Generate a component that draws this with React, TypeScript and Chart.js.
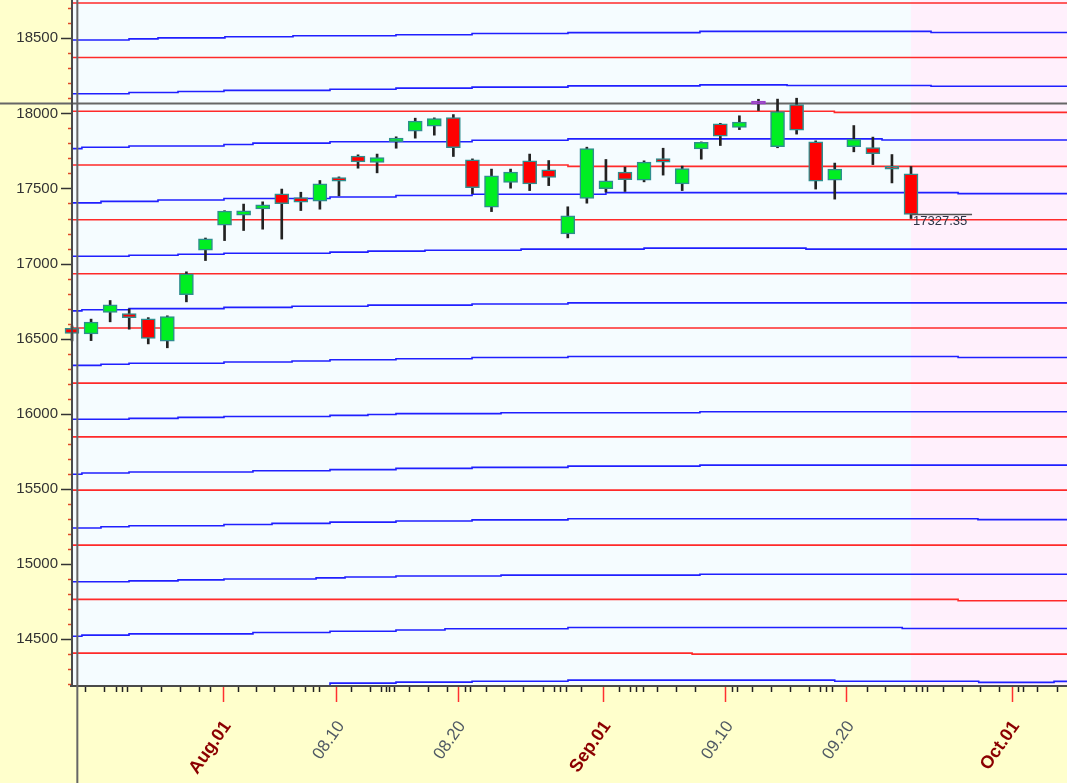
import React, { useEffect, useRef } from "react";
import { Chart, registerables } from "chart.js";

Chart.register(...registerables);

// ---- candle data (index 0 .. 44) ----
const OPEN = [16569, 16532, 16674, 16667, 16632, 16483, 16792, 17089, 17256, 17322, 17364, 17464, 17440, 17416, 17573, 17715, 17673, 17812, 17882, 17915, 17972, 17691, 17376, 17540, 17684, 17624, 17198, 17433, 17498, 17609, 17555, 17699, 17531, 17764, 17930, 17906, 18062, 17779, 18059, 17810, 17555, 17779, 17772, 17631, 17597];
const HIGH = [16585, 16630, 16754, 16698, 16640, 16652, 16945, 17170, 17352, 17396, 17411, 17496, 17475, 17553, 17577, 17724, 17729, 17844, 17968, 17970, 17992, 17697, 17629, 17629, 17729, 17686, 17378, 17775, 17693, 17642, 17684, 17768, 17649, 17810, 17934, 17984, 18094, 18095, 18101, 17817, 17669, 17919, 17842, 17726, 17646];
const LOW = [16485, 16487, 16612, 16563, 16465, 16439, 16745, 17020, 17153, 17220, 17229, 17163, 17353, 17362, 17451, 17635, 17604, 17768, 17835, 17855, 17713, 17466, 17346, 17502, 17486, 17519, 17171, 17402, 17476, 17480, 17544, 17589, 17486, 17695, 17786, 17892, 18019, 17771, 17862, 17496, 17429, 17744, 17659, 17537, 17300];
const CLOSE = [16535, 16610, 16725, 16639, 16501, 16647, 16932, 17165, 17349, 17351, 17391, 17398, 17409, 17531, 17549, 17677, 17706, 17835, 17948, 17966, 17772, 17506, 17584, 17609, 17531, 17573, 17318, 17766, 17551, 17558, 17675, 17675, 17633, 17808, 17848, 17942, 18062, 18012, 17888, 17549, 17629, 17828, 17731, 17628, 17327.35];

// ---- axis data ----
const Y_MIN = 14187;
const Y_MAX = 18755;
const Y_LABELS = [14500, 15000, 15500, 16000, 16500, 17000, 17500, 18000, 18500];
const Y_MINOR_STEP = 100;
const X_MIN = 0;
const X_MAX = 52.18;
const X_MAJOR_POS = [7.92, 13.87, 20.22, 27.83, 34.26, 40.61, 49.27];
const X_MAJOR_LABELS = ["Aug.01", "08.10", "08.20", "Sep.01", "09.10", "09.20", "Oct.01"];
const X_MAJOR_MONTH = [true, false, false, true, false, false, true];
const X_MINOR_POS = [0.7, 1.66, 2.29, 2.6, 2.91, 3.63, 4.66, 5.67, 6.66, 7.26, 8.68, 9.64, 10.61, 11.59, 12.21, 12.66, 12.96, 14.64, 15.64, 16.23, 16.45, 16.63, 16.9, 17.66, 18.65, 19.65, 20.61, 20.87, 21.69, 22.68, 23.67, 24.69, 25.28, 25.6, 25.91, 26.68, 28.69, 29.28, 29.59, 29.95, 30.66, 31.65, 32.69, 34.62, 34.9, 35.66, 36.65, 37.67, 38.66, 39.25, 39.55, 39.88, 41.67, 42.64, 43.63, 44.24, 44.55, 44.86, 45.66, 46.65, 47.6, 48.63, 49.6, 49.88, 50.63, 51.63];

// ---- crosshair ----
const CROSS_X = 0.28;
const CROSS_Y = 18066;

// ---- level lines: [index where level starts, value] ----
const RED_LINES: number[][][] = [
  [[0, 18735]],
  [[0, 18372]],
  [[0, 18014], [39.98, 18007]],
  [[0, 17656], [26.01, 17647]],
  [[0, 17292]],
  [[0, 16932]],
  [[0, 16571]],
  [[0, 16204]],
  [[0, 15846]],
  [[0, 15491]],
  [[0, 15125]],
  [[0, 14764], [46.47, 14755]],
  [[0, 14406], [32.52, 14399]],
];

const BLUE_LINES: number[][][] = [
  [[0, 18489], [2.99, 18496], [4.51, 18503], [8.02, 18510], [11.59, 18517], [16.99, 18524], [20.98, 18532], [26.01, 18538], [32.93, 18546], [45.05, 18539]],
  [[0, 18131], [2.99, 18139], [5.56, 18146], [7.97, 18153], [13.53, 18161], [16.99, 18168], [20.98, 18175], [26.01, 18183], [32.93, 18190], [37.5, 18186], [45.05, 18181]],
  [[0, 17765], [0.52, 17774], [2.99, 17783], [7.97, 17793], [9.49, 17802], [13.53, 17811], [20.98, 17821], [26.01, 17830], [42.48, 17823]],
  [[0, 17404], [1.52, 17414], [4.51, 17423], [7.97, 17433], [13.53, 17443], [16.99, 17453], [20.98, 17462], [28.0, 17472], [46.47, 17466]],
  [[0, 17049], [2.99, 17055], [5.56, 17062], [7.97, 17069], [13.53, 17076], [15.52, 17083], [18.51, 17089], [23.55, 17096], [30.0, 17103], [38.49, 17096]],
  [[0, 16685], [0.52, 16692], [2.99, 16700], [7.97, 16708], [11.54, 16716], [15.52, 16723], [20.98, 16731], [26.01, 16738]],
  [[0, 16322], [1.52, 16329], [2.99, 16336], [7.97, 16344], [11.54, 16351], [13.53, 16359], [16.99, 16366], [20.98, 16374], [26.01, 16381], [46.47, 16374]],
  [[0, 15963], [2.99, 15969], [5.56, 15976], [7.97, 15982], [13.53, 15989], [15.52, 15995], [16.99, 16001], [22.5, 16007], [32.93, 16013]],
  [[0, 15597], [0.52, 15605], [2.99, 15612], [9.49, 15620], [13.53, 15628], [16.99, 15636], [20.98, 15643], [26.01, 15651], [32.93, 15658]],
  [[0, 15239], [1.52, 15247], [2.99, 15254], [7.97, 15262], [10.49, 15270], [13.53, 15278], [16.99, 15286], [20.98, 15293], [26.01, 15301], [47.51, 15295]],
  [[0, 14881], [2.99, 14887], [5.56, 14894], [7.97, 14900], [12.8, 14907], [14.32, 14913], [16.99, 14919], [22.5, 14925], [32.93, 14931]],
  [[0, 14518], [0.52, 14526], [2.99, 14534], [9.49, 14543], [13.53, 14552], [16.99, 14560], [19.56, 14568], [26.01, 14577], [43.54, 14570]],
  [[0, 14180], [13.53, 14206], [16.99, 14213], [20.98, 14219], [26.01, 14226], [40.0, 14219], [47.55, 14211], [51.5, 14218]],
];

const FONT = "'Liberation Sans', Arial, sans-serif";
const UP = "#00EE22";
const DOWN = "#FF0000";
const DOJI = "#9A40C8";
const EDGE = "#2E8E8E";

const lineDataset = (pts: number[][], color: string) => ({
  type: "line" as const,
  data: [
    ...pts.map(([x, y]) => ({ x, y })),
    { x: X_MAX, y: pts[pts.length - 1][1] },
  ],
  borderColor: color,
  borderWidth: 1.6,
  pointRadius: 0,
  stepped: true,
  fill: false,
  order: 2,
});

const bgPlugin = {
  id: "bgPlugin",
  beforeDraw(chart: any) {
    const { ctx, chartArea, scales } = chart;
    ctx.save();
    ctx.fillStyle = "#FFFFCC";
    ctx.fillRect(0, 0, chart.width, chart.height);
    ctx.fillStyle = "#F5FCFF";
    ctx.fillRect(chartArea.left, chartArea.top, chartArea.right - chartArea.left, chartArea.bottom - chartArea.top);
    const px = scales.x.getPixelForValue(CLOSE.length - 1);
    ctx.fillStyle = "#FFF0FC";
    ctx.fillRect(px, chartArea.top, chartArea.right - px, chartArea.bottom - chartArea.top);
    ctx.restore();
  },
  beforeDatasetsDraw(chart: any) {
    const { ctx, scales } = chart;
    const y = scales.y.getPixelForValue(CROSS_Y);
    ctx.save();
    ctx.strokeStyle = "#666666";
    ctx.lineWidth = 2;
    ctx.beginPath();
    ctx.moveTo(0, y);
    ctx.lineTo(chart.width, y);
    ctx.stroke();
    ctx.restore();
  },
};

const overlayPlugin = {
  id: "overlayPlugin",
  afterDatasetsDraw(chart: any) {
    const { ctx, chartArea, scales } = chart;
    const xs = scales.x;
    const ys = scales.y;
    const L = chartArea.left;
    const B = chartArea.bottom;
    ctx.save();

    // y minor / major ticks
    const first = Math.ceil(Y_MIN / Y_MINOR_STEP) * Y_MINOR_STEP;
    for (let v = first; v <= Y_MAX; v += Y_MINOR_STEP) {
      const y = Math.round(ys.getPixelForValue(v)) + 0.5;
      const major = Y_LABELS.includes(v);
      ctx.strokeStyle = major ? "#333333" : "#E04828";
      ctx.lineWidth = 1.5;
      ctx.beginPath();
      ctx.moveTo(L - (major ? 11 : 4), y);
      ctx.lineTo(L, y);
      ctx.stroke();
    }

    // x ticks
    ctx.lineWidth = 1.5;
    ctx.strokeStyle = "#222222";
    X_MINOR_POS.forEach((p) => {
      const x = Math.round(xs.getPixelForValue(p)) + 0.5;
      ctx.beginPath();
      ctx.moveTo(x, B);
      ctx.lineTo(x, B + 6);
      ctx.stroke();
    });
    ctx.strokeStyle = "#FF3030";
    X_MAJOR_POS.forEach((p) => {
      const x = Math.round(xs.getPixelForValue(p)) + 0.5;
      ctx.beginPath();
      ctx.moveTo(x, B);
      ctx.lineTo(x, B + 16);
      ctx.stroke();
    });

    // axis lines
    ctx.strokeStyle = "#4A4A4A";
    ctx.lineWidth = 2;
    ctx.beginPath();
    ctx.moveTo(L, 0);
    ctx.lineTo(L, B);
    ctx.moveTo(L - 2, B);
    ctx.lineTo(chart.width, B);
    ctx.stroke();

    // x labels
    X_MAJOR_POS.forEach((p, i) => {
      const x = xs.getPixelForValue(p) + 4.5;
      const y = B + 37;
      ctx.save();
      ctx.translate(x, y);
      ctx.rotate((-55 * Math.PI) / 180);
      ctx.textAlign = "right";
      ctx.textBaseline = "middle";
      ctx.font = X_MAJOR_MONTH[i] ? "bold 18px " + FONT : "17px " + FONT;
      ctx.fillStyle = X_MAJOR_MONTH[i] ? "#8B0000" : "#505A64";
      ctx.fillText(X_MAJOR_LABELS[i], 0, 0);
      ctx.restore();
    });

    // vertical crosshair
    const cx = xs.getPixelForValue(CROSS_X);
    ctx.strokeStyle = "#666666";
    ctx.lineWidth = 2;
    ctx.beginPath();
    ctx.moveTo(cx, 0);
    ctx.lineTo(cx, chart.height);
    ctx.stroke();

    // last price marker
    const last = CLOSE.length - 1;
    const lx = xs.getPixelForValue(last);
    const ly = ys.getPixelForValue(CLOSE[last]);
    ctx.strokeStyle = "#555555";
    ctx.lineWidth = 1.5;
    ctx.beginPath();
    ctx.moveTo(lx, ly);
    ctx.lineTo(xs.getPixelForValue(last + 3.2), ly);
    ctx.stroke();
    ctx.font = "13px " + FONT;
    ctx.fillStyle = "#2B3444";
    ctx.textAlign = "left";
    ctx.textBaseline = "top";
    ctx.fillText(CLOSE[last].toFixed(2), lx + 2, ly + 1);

    ctx.restore();
  },
};

export default function App() {
  const ref = useRef<HTMLCanvasElement | null>(null);

  useEffect(() => {
    document.body.style.margin = "0";
    const canvas = ref.current;
    if (!canvas) return;

    const datasets: any[] = [];
    RED_LINES.forEach((pts) => datasets.push(lineDataset(pts, "#FF2A2A")));
    BLUE_LINES.forEach((pts) => datasets.push(lineDataset(pts, "#1F1FFF")));

    datasets.push({
      type: "bar",
      data: CLOSE.map((_, i) => ({ x: i, y: [LOW[i], HIGH[i]] })),
      backgroundColor: "#222222",
      borderWidth: 0,
      barThickness: 2,
      grouped: false,
      clip: false,
      order: 1,
    });
    datasets.push({
      type: "bar",
      data: CLOSE.map((_, i) => ({ x: i, y: [OPEN[i], CLOSE[i]] })),
      backgroundColor: (c: any) => {
        const i = c.dataIndex;
        return CLOSE[i] > OPEN[i] ? UP : CLOSE[i] < OPEN[i] ? DOWN : DOJI;
      },
      borderColor: (c: any) => {
        const i = c.dataIndex;
        return CLOSE[i] === OPEN[i] ? DOJI : EDGE;
      },
      borderWidth: 1.5,
      borderSkipped: false,
      barThickness: 14,
      minBarLength: 3,
      grouped: false,
      clip: false,
      order: 0,
    });

    const chart = new Chart(canvas, {
      type: "line",
      data: { datasets },
      options: {
        animation: false,
        responsive: false,
        maintainAspectRatio: false,
        devicePixelRatio: 1,
        events: [],
        layout: { padding: 0 },
        plugins: { legend: { display: false }, tooltip: { enabled: false } },
        scales: {
          x: {
            type: "linear",
            min: X_MIN,
            max: X_MAX,
            offset: false,
            grid: { display: false, drawTicks: false },
            border: { display: false },
            ticks: { display: false },
            afterFit(s: any) {
              s.height = 97;
              s.paddingLeft = 0;
              s.paddingRight = 0;
            },
          },
          y: {
            type: "linear",
            min: Y_MIN,
            max: Y_MAX,
            grid: { display: false, drawTicks: false },
            border: { display: false },
            ticks: {
              color: "#333333",
              font: { family: FONT, size: 15 },
              padding: 14,
              autoSkip: false,
              callback: (v: any) => String(v),
            },
            afterBuildTicks(s: any) {
              s.ticks = Y_LABELS.map((v) => ({ value: v }));
            },
            afterFit(s: any) {
              s.width = 72;
              s.paddingTop = 0;
              s.paddingBottom = 0;
            },
          },
        },
      } as any,
      plugins: [bgPlugin, overlayPlugin],
    });

    return () => chart.destroy();
  }, []);

  return (
    <div style={{ width: 1067, height: 783 }}>
      <canvas ref={ref} width={1067} height={783} style={{ display: "block" }} />
    </div>
  );
}
